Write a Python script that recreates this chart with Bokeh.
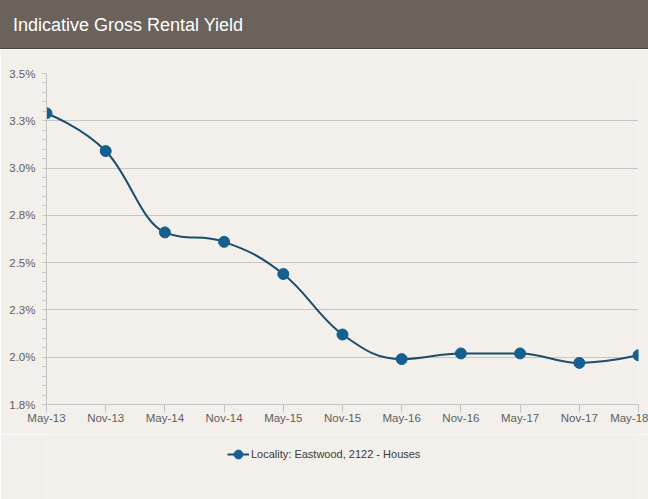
from bokeh.plotting import figure
from bokeh.models import (Range1d, FixedTicker, SingleIntervalTicker, Legend, LegendItem,
                          Div, ColumnDataSource)
from bokeh.layouts import column
from bokeh.embed import file_html
from bokeh.resources import INLINE

# ---- data ----
title_text = "Indicative Gross Rental Yield"
series_name = "Locality: Eastwood, 2122 - Houses"
x_labels = ["May-13", "Nov-13", "May-14", "Nov-14", "May-15", "Nov-15",
            "May-16", "Nov-16", "May-17", "Nov-17", "May-18"]
yields = [3.29, 3.09, 2.66, 2.61, 2.44, 2.12, 1.99, 2.02, 2.02, 1.97, 2.01]
y_tick_values = [1.75, 2.0, 2.25, 2.5, 2.75, 3.0, 3.25, 3.5]
y_tick_labels = ["1.8%", "2.0%", "2.3%", "2.5%", "2.8%", "3.0%", "3.3%", "3.5%"]

# ---- style ----
BG = "#f3f0eb"
HEADER = "#6b625c"
GRID = "#c6c6c6"
LINE = "#1b4d6d"
MARK = "#15608f"
LABEL = "#606060"
FONT = "Liberation Sans"

xs = list(range(len(x_labels)))


def spline_segments(px_list, py_list, smoothing=1.5):
    """Highcharts-style spline control points (computed from the data)."""
    n = len(px_list)
    denom = smoothing + 1
    lc = [None] * n
    rc = [None] * n
    for i in range(n):
        px, py = px_list[i], py_list[i]
        if 0 < i < n - 1:
            lx, ly = px_list[i - 1], py_list[i - 1]
            nx, ny = px_list[i + 1], py_list[i + 1]
            lcx = (smoothing * px + lx) / denom
            lcy = (smoothing * py + ly) / denom
            rcx = (smoothing * px + nx) / denom
            rcy = (smoothing * py + ny) / denom
            corr = ((rcy - lcy) * (rcx - px)) / (rcx - lcx) + py - rcy
            lcy += corr
            rcy += corr
            if lcy > ly and lcy > py:
                lcy = max(ly, py); rcy = 2 * py - lcy
            elif lcy < ly and lcy < py:
                lcy = min(ly, py); rcy = 2 * py - lcy
            if rcy > ny and rcy > py:
                rcy = max(ny, py); lcy = 2 * py - rcy
            elif rcy < ny and rcy < py:
                rcy = min(ny, py); lcy = 2 * py - rcy
            lc[i] = (lcx, lcy)
            rc[i] = (rcx, rcy)
        else:
            lc[i] = rc[i] = (px, py)
    seg = dict(x0=[], y0=[], x1=[], y1=[], cx0=[], cy0=[], cx1=[], cy1=[])
    for i in range(1, n):
        seg["x0"].append(px_list[i - 1]); seg["y0"].append(py_list[i - 1])
        seg["x1"].append(px_list[i]); seg["y1"].append(py_list[i])
        seg["cx0"].append(rc[i - 1][0]); seg["cy0"].append(rc[i - 1][1])
        seg["cx1"].append(lc[i][0]); seg["cy1"].append(lc[i][1])
    return seg


# ---- main chart ----
p = figure(width=648, height=385, output_backend="svg", toolbar_location=None,
           x_range=Range1d(0, len(x_labels) - 1),
           y_range=Range1d(y_tick_values[0], y_tick_values[-1]),
           min_border_left=46, min_border_right=10, min_border_top=24, min_border_bottom=30,
           background_fill_color=BG, border_fill_color=BG, outline_line_color=None)

seg_src = ColumnDataSource(spline_segments(xs, yields))
curve = p.bezier(x0="x0", y0="y0", x1="x1", y1="y1", cx0="cx0", cy0="cy0",
                 cx1="cx1", cy1="cy1", source=seg_src, line_color=LINE, line_width=2)
pts = p.scatter(x=xs, y=yields, size=11, fill_color=MARK, line_color=MARK, line_width=1)

# x axis
p.xaxis.ticker = FixedTicker(ticks=xs)
p.xaxis.major_label_overrides = {i: lab for i, lab in zip(xs, x_labels)}
p.xaxis.axis_line_color = GRID
p.xaxis.major_tick_line_color = GRID
p.xaxis.minor_tick_line_color = None
p.xaxis.major_tick_out = 8
p.xaxis.major_tick_in = 0
p.xaxis.major_label_standoff = -1
p.xaxis.major_label_text_font = FONT
p.xaxis.major_label_text_font_size = "11.5px"
p.xaxis.major_label_text_color = LABEL
p.xgrid.grid_line_color = None

# y axis
yt = SingleIntervalTicker(interval=0.25, num_minor_ticks=5)
p.yaxis.ticker = yt
p.yaxis.major_label_overrides = {v: lab for v, lab in zip(y_tick_values, y_tick_labels)}
p.yaxis.axis_line_color = GRID
p.yaxis.major_tick_line_color = GRID
p.yaxis.minor_tick_line_color = GRID
p.yaxis.major_tick_out = 4
p.yaxis.major_tick_in = 0
p.yaxis.minor_tick_out = 4
p.yaxis.minor_tick_in = 0
p.yaxis.major_label_standoff = 7
p.yaxis.major_label_text_font = FONT
p.yaxis.major_label_text_font_size = "11.5px"
p.yaxis.major_label_text_color = LABEL
p.ygrid.ticker = yt
p.ygrid.grid_line_color = GRID
p.ygrid.grid_line_width = 1

# ---- legend strip (separate small figure so the legend is not clipped) ----
# its renderers carry the same series but the view range lies away from it,
# so only the legend entry is visible in this strip
lg = figure(width=648, height=65, output_backend="svg", toolbar_location=None,
            x_range=Range1d(100, 101), y_range=Range1d(100, 101),
            x_axis_type=None, y_axis_type=None, min_border=0,
            background_fill_color=BG, border_fill_color=BG, outline_line_color=None)
lg.xgrid.grid_line_color = None
lg.ygrid.grid_line_color = None
lg_line = lg.line(x=xs, y=yields, line_color=LINE, line_width=2)
lg_pts = lg.scatter(x=xs, y=yields, size=11, fill_color=MARK, line_color=MARK, line_width=1)

legend = Legend(items=[LegendItem(label=series_name, renderers=[lg_line, lg_pts])],
                location=(181, 34), orientation="horizontal",
                padding=0, margin=0, spacing=0,
                glyph_width=22, glyph_height=22, label_height=12, label_standoff=2,
                label_text_font=FONT, label_text_font_size="11px", label_text_color="#3a3a3a",
                border_line_color=None, background_fill_alpha=0)
lg.add_layout(legend, "center")

header = Div(
    text=('<div style="box-sizing:border-box;width:648px;height:49px;line-height:50px;'
          'border-bottom:1px solid #4a423d;background-color:' + HEADER + ';'
          'padding-left:13px;color:#ffffff;font-family:\'Liberation Sans\',Arial,sans-serif;'
          'font-size:18px;">' + title_text + '</div>'),
    width=648, height=49, margin=0,
    styles={"background-color": HEADER})

layout = column(header, p, lg, spacing=0)

open("out.html", "w").write(file_html(layout, INLINE))
